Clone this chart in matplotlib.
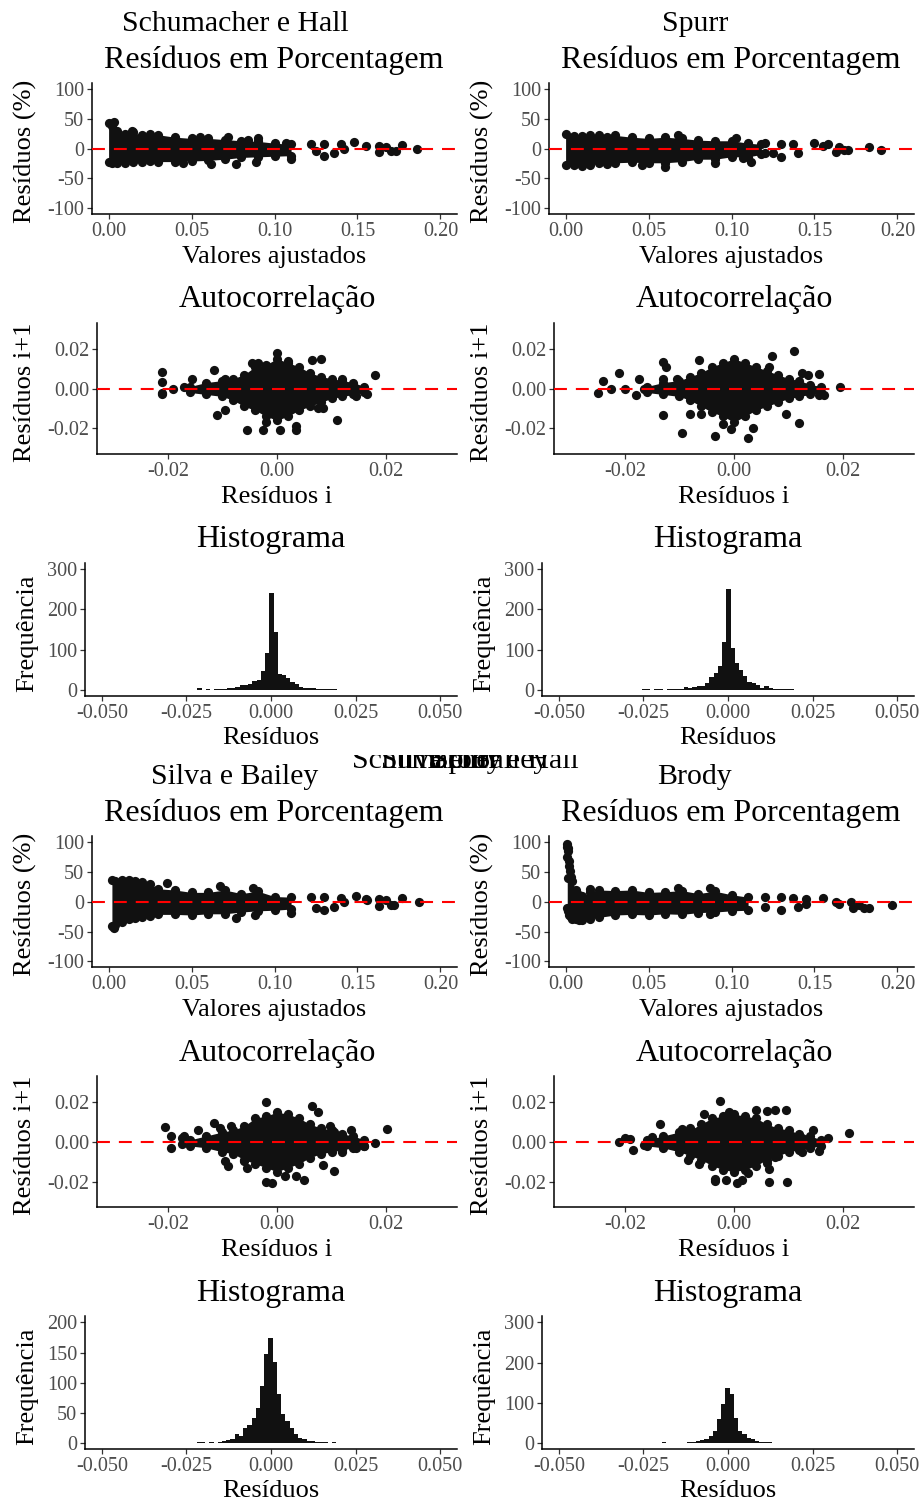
import matplotlib
matplotlib.use("Agg")
import matplotlib.pyplot as plt
import numpy as np

plt.rcParams["font.family"] = ["Liberation Serif", "DejaVu Serif"]
plt.rcParams["axes.unicode_minus"] = False

W, H = 924, 1501
DOT = "#111111"
TICK_COL = "#4D4D4D"

MODELS = ["Schumacher e Hall", "Spurr", "Silva e Bailey", "Brody"]

# ── residuals (%) vs fitted: dense core band + loose points ──────────────────
SH_PCT_X = [0.000, 0.002, 0.005, 0.010, 0.015, 0.020, 0.025, 0.030, 0.040, 0.050, 0.060, 0.070,
            0.080, 0.090, 0.100, 0.110]
SH_PCT_HI = [42, 38, 30, 25, 27, 22, 24, 23, 19, 17, 17, 15, 13, 12, 9, 7]
SH_PCT_LO = [-22, -24, -24, -24, -22, -23, -21, -22, -22, -21, -20, -18, -15, -14, -13, -12]
SH_PCT_OUT = [(0.077, -26), (0.089, -22), (0.090, 18), (0.107, 9), (0.110, -18), (0.122, 8),
              (0.125, -4), (0.130, 8), (0.130, -12), (0.136, -7), (0.140, 7), (0.142, 0),
              (0.148, 11), (0.155, 4), (0.163, 5), (0.163, -6), (0.167, 3), (0.170, -4),
              (0.173, -5), (0.177, 6), (0.186, 0), (0.062, -26), (0.003, 44), (0.014, 29),
              (0.045, -24), (0.055, 20), (0.072, 19), (0.084, 15)]

SP_PCT_X = [0.000, 0.005, 0.010, 0.015, 0.020, 0.025, 0.030, 0.040, 0.050, 0.060, 0.070, 0.080,
            0.090, 0.100, 0.110, 0.118]
SP_PCT_HI = [24, 21, 21, 23, 22, 20, 22, 19, 17, 19, 17, 14, 13, 13, 9, 7]
SP_PCT_LO = [-28, -28, -29, -27, -25, -26, -24, -23, -24, -24, -22, -18, -18, -14, -14, -10]
SP_PCT_OUT = [(0.120, 10), (0.120, -8), (0.125, -8), (0.130, 8), (0.130, -14), (0.137, 8),
              (0.140, -8), (0.150, 10), (0.155, 4), (0.158, 7), (0.163, -6), (0.165, 3),
              (0.168, -2), (0.170, -2), (0.183, 2), (0.190, -2), (0.060, -31), (0.090, -24),
              (0.046, -28), (0.068, 22), (0.107, -16), (0.112, -22), (0.103, 18)]

SB_PCT_X = [0.002, 0.004, 0.008, 0.012, 0.016, 0.020, 0.025, 0.030, 0.040, 0.050, 0.060, 0.070,
            0.080, 0.090, 0.100, 0.110]
SB_PCT_HI = [36, 35, 36, 37, 35, 34, 30, 22, 20, 16, 16, 20, 14, 18, 9, 8]
SB_PCT_LO = [-41, -38, -33, -29, -27, -25, -23, -21, -21, -22, -20, -20, -17, -15, -14, -12]
SB_PCT_OUT = [(0.077, -27), (0.088, -22), (0.110, -19), (0.122, 8), (0.125, -10), (0.130, 8),
              (0.130, -14), (0.136, -8), (0.140, 6), (0.142, 0), (0.149, 10), (0.155, 5),
              (0.156, 3), (0.163, 5), (0.163, -7), (0.167, 3), (0.170, -5), (0.172, -5),
              (0.177, 6), (0.187, 0), (0.035, 32), (0.067, 26), (0.087, 23), (0.003, -44)]

BR_PCT_X = [0.001, 0.0015, 0.002, 0.003, 0.004, 0.006, 0.008, 0.010, 0.015, 0.020, 0.030, 0.040,
            0.050, 0.060, 0.070, 0.080, 0.090, 0.100, 0.110]
BR_PCT_HI = [93, 85, 60, 42, 35, 20, 12, 10, 17, 20, 19, 20, 16, 17, 19, 14, 18, 12, 8]
BR_PCT_LO = [-10, -15, -22, -26, -28, -29, -30, -30, -28, -26, -22, -21, -22, -20, -21, -18, -17, -15, -14]
BR_PCT_OUT = [(0.120, 8), (0.120, -8), (0.130, 8), (0.130, -14), (0.137, 6), (0.140, -8),
              (0.145, 5), (0.145, -3), (0.155, 7), (0.163, 0), (0.165, -3), (0.172, 0),
              (0.173, -10), (0.177, -5), (0.180, -10), (0.183, -10), (0.197, -5),
              (0.001, 97), (0.0015, 90), (0.001, 75), (0.002, 68), (0.0025, 52), (0.0015, 40),
              (0.087, -20), (0.015, 22), (0.068, 23), (0.087, 24)]

# ── autocorrelation: residual i vs residual i+1 ──────────────────────────────
SH_ACF_X = [-0.016, -0.013, -0.010, -0.008, -0.006, -0.004, -0.002, 0.000, 0.002, 0.004, 0.006,
            0.008, 0.010, 0.012, 0.014, 0.016]
SH_ACF_HI = [0.001, 0.003, 0.004, 0.005, 0.007, 0.011, 0.012, 0.015, 0.013, 0.011, 0.008,
             0.006, 0.005, 0.004, 0.003, 0.001]
SH_ACF_LO = [-0.002, -0.003, -0.004, -0.006, -0.009, -0.011, -0.014, -0.016, -0.014, -0.011,
             -0.009, -0.007, -0.005, -0.004, -0.003, -0.002]
SH_ACF_OUT = [(-0.021, 0.0085), (-0.021, 0.0035), (-0.021, -0.0025), (-0.021, -0.003), (-0.019, 0.0),
              (-0.0155, 0.005), (-0.017, 0.001), (-0.0115, 0.0095), (-0.011, -0.0132), (-0.0095, -0.011),
              (-0.0055, -0.021), (-0.0025, -0.021), (-0.002, -0.017), (0.0005, -0.021), (0.0035, -0.019),
              (0.0035, -0.021), (0.0065, 0.0145), (0.008, 0.015), (0.011, -0.016), (0.018, 0.007),
              (0.0165, -0.003), (0.0145, -0.004), (-0.0045, 0.013), (-0.0035, 0.013), (0.0, 0.018),
              (0.002, 0.014), (0.0075, -0.010), (0.0085, -0.010), (-0.0095, 0.005), (0.012, 0.005)]

SP_ACF_X = [-0.016, -0.013, -0.010, -0.008, -0.006, -0.004, -0.002, 0.000, 0.002, 0.004, 0.006,
            0.008, 0.010, 0.012, 0.014, 0.016]
SP_ACF_HI = [0.001, 0.003, 0.004, 0.006, 0.008, 0.011, 0.013, 0.015, 0.013, 0.011, 0.009,
             0.007, 0.005, 0.004, 0.002, 0.001]
SP_ACF_LO = [-0.002, -0.003, -0.004, -0.006, -0.009, -0.012, -0.014, -0.017, -0.014, -0.011,
             -0.009, -0.007, -0.005, -0.004, -0.003, -0.002]
SP_ACF_OUT = [(-0.025, -0.0025), (-0.024, 0.004), (-0.0225, -0.0005), (-0.021, 0.008), (-0.020, 0.0),
              (-0.0175, 0.005), (-0.018, -0.0035), (-0.0165, 0.0), (-0.013, 0.0135), (-0.0125, 0.011),
              (-0.013, -0.0135), (-0.013, 0.005), (-0.0105, 0.005), (-0.0095, -0.0225), (-0.008, -0.013),
              (-0.0065, 0.0145), (-0.006, -0.013), (-0.0035, -0.024), (-0.002, -0.018), (-0.0005, -0.0205),
              (0.0025, -0.025), (0.0035, -0.020), (0.007, 0.0165), (0.0065, 0.011), (0.0095, -0.013),
              (0.011, 0.019), (0.012, -0.0175), (0.0125, 0.008), (0.0135, 0.007), (0.0155, 0.0075),
              (0.0155, -0.0035), (0.0165, -0.0035), (0.0195, 0.001), (0.0105, -0.003)]

SB_ACF_X = [-0.016, -0.013, -0.010, -0.008, -0.006, -0.004, -0.002, 0.000, 0.002, 0.004, 0.006,
            0.008, 0.010, 0.012, 0.014, 0.016]
SB_ACF_HI = [0.001, 0.003, 0.005, 0.006, 0.008, 0.012, 0.013, 0.015, 0.014, 0.012, 0.009,
             0.007, 0.006, 0.004, 0.003, 0.001]
SB_ACF_LO = [-0.002, -0.003, -0.005, -0.006, -0.009, -0.011, -0.013, -0.015, -0.013, -0.011,
             -0.008, -0.006, -0.005, -0.004, -0.003, -0.002]
SB_ACF_OUT = [(-0.0205, 0.0075), (-0.0195, -0.003), (-0.0195, 0.003), (-0.0175, 0.002), (-0.017, 0.003),
              (-0.0175, -0.001), (-0.0145, 0.006), (-0.0115, 0.0095), (-0.0105, 0.007), (-0.0085, 0.008),
              (-0.0095, -0.0095), (-0.009, -0.012), (-0.006, -0.0095), (-0.0055, -0.013), (-0.002, -0.020),
              (-0.001, -0.0205), (-0.002, 0.020), (0.0015, -0.017), (0.0035, -0.017), (0.005, -0.019),
              (0.0065, 0.018), (0.0075, 0.015), (0.0085, -0.0115), (0.0105, -0.0145), (0.012, -0.005),
              (0.0135, 0.006), (0.0145, -0.003), (0.016, -0.002), (0.018, -0.0005), (0.0202, 0.0065),
              (0.0098, 0.008), (0.0105, 0.005)]

BR_ACF_X = [-0.016, -0.013, -0.010, -0.008, -0.006, -0.004, -0.002, 0.000, 0.002, 0.004, 0.006,
            0.008, 0.010, 0.012, 0.014, 0.016]
BR_ACF_HI = [0.001, 0.003, 0.005, 0.006, 0.009, 0.012, 0.013, 0.014, 0.013, 0.012, 0.009,
             0.007, 0.006, 0.004, 0.003, 0.001]
BR_ACF_LO = [-0.002, -0.003, -0.005, -0.007, -0.009, -0.012, -0.014, -0.015, -0.014, -0.012,
             -0.009, -0.007, -0.005, -0.004, -0.003, -0.002]
BR_ACF_OUT = [(-0.021, 0.0), (-0.020, 0.002), (-0.019, 0.0015), (-0.0185, -0.004), (-0.0165, -0.0015),
              (-0.015, 0.0025), (-0.0135, 0.009), (-0.011, -0.0003), (-0.0095, 0.0065), (-0.0085, -0.009),
              (-0.008, 0.007), (-0.0065, -0.011), (-0.0055, 0.014), (-0.0035, -0.0195), (-0.0035, -0.0185),
              (-0.0015, -0.019), (-0.001, 0.015), (-0.0025, 0.0205), (0.0005, -0.0205), (0.0015, -0.019),
              (0.0025, -0.0155), (0.004, 0.016), (0.006, 0.0155), (0.0075, 0.016), (0.0095, 0.016),
              (0.006, -0.0105), (0.0065, -0.0135), (0.0075, -0.0075), (0.0065, -0.020), (0.0098, -0.020),
              (0.0125, 0.002), (0.0125, -0.005), (0.0145, 0.006), (0.0155, -0.0045), (0.0172, 0.002),
              (0.021, 0.0045)]

# ── histograms of residuals: counts per bin of width HIST_BW ─────────────────
HIST_BW = 0.00125
SH_HIST_START = -0.02175
SH_HIST = [4, 0, 2, 0, 2, 2, 3, 4, 6, 8, 12, 13, 14, 22, 25, 46, 91, 240, 143, 40, 37, 30, 20,
           14, 8, 5, 5, 5, 3, 3, 2, 2, 2]
SP_HIST_START = -0.02550
SP_HIST = [2, 2, 0, 2, 2, 0, 2, 2, 2, 3, 8, 5, 7, 9, 11, 17, 31, 41, 60, 118, 251, 105, 66, 50,
           35, 19, 17, 12, 6, 9, 6, 3, 3, 2, 2, 2]
SB_HIST_START = -0.02200
SB_HIST = [3, 3, 0, 2, 0, 3, 4, 6, 8, 15, 12, 25, 30, 42, 59, 95, 147, 175, 134, 81, 48, 37,
           26, 15, 9, 7, 4, 4, 2, 2, 2, 0, 2]
BR_HIST_START = -0.01950
BR_HIST = [3, 2, 2, 2, 2, 2, 3, 4, 6, 9, 12, 18, 31, 60, 97, 138, 122, 64, 31, 22, 14, 10, 6,
           4, 3, 3, 2, 2, 2, 0, 0, 0, 2]

PCT = {"Schumacher e Hall": (SH_PCT_X, SH_PCT_HI, SH_PCT_LO, SH_PCT_OUT),
       "Spurr": (SP_PCT_X, SP_PCT_HI, SP_PCT_LO, SP_PCT_OUT),
       "Silva e Bailey": (SB_PCT_X, SB_PCT_HI, SB_PCT_LO, SB_PCT_OUT),
       "Brody": (BR_PCT_X, BR_PCT_HI, BR_PCT_LO, BR_PCT_OUT)}
ACF = {"Schumacher e Hall": (SH_ACF_X, SH_ACF_HI, SH_ACF_LO, SH_ACF_OUT),
       "Spurr": (SP_ACF_X, SP_ACF_HI, SP_ACF_LO, SP_ACF_OUT),
       "Silva e Bailey": (SB_ACF_X, SB_ACF_HI, SB_ACF_LO, SB_ACF_OUT),
       "Brody": (BR_ACF_X, BR_ACF_HI, BR_ACF_LO, BR_ACF_OUT)}
HIST = {"Schumacher e Hall": (SH_HIST_START, SH_HIST),
        "Spurr": (SP_HIST_START, SP_HIST),
        "Silva e Bailey": (SB_HIST_START, SB_HIST),
        "Brody": (BR_HIST_START, BR_HIST)}
HIST_YTICKS = {"Schumacher e Hall": [0, 100, 200, 300], "Spurr": [0, 100, 200, 300],
               "Silva e Bailey": [0, 50, 100, 150, 200], "Brody": [0, 100, 200, 300]}


# ── helpers ───────────────────────────────────────────────────────────────────

def px_axes(fig, x0, y0, x1, y1):
    return fig.add_axes([x0 / W, 1 - y1 / H, (x1 - x0) / W, (y1 - y0) / H])


def px_text(fig, x, y, s, size, rotation=0, **kw):
    fig.text(x / W, 1 - y / H, s, fontsize=size, rotation=rotation,
             ha="center", va="center", **kw)


def style(ax):
    for side in ("top", "right"):
        ax.spines[side].set_visible(False)
    for side in ("left", "bottom"):
        ax.spines[side].set_linewidth(1.1)
        ax.spines[side].set_color("black")
    ax.tick_params(length=3.5, width=0.9, color="#333333", labelcolor=TICK_COL,
                   labelsize=14.6, pad=2)
    ax.set_facecolor("none")


def zero_line(ax):
    ax.axhline(0, color="red", lw=1.5, dashes=(6.2, 4.3), zorder=5)


def cloud(ax, x, hi, lo, out):
    ax.fill_between(x, lo, hi, color=DOT, lw=0, zorder=2)
    ax.scatter(x + x, hi + lo, s=44, color=DOT, lw=0, zorder=3)
    ox, oy = zip(*out)
    ax.scatter(ox, oy, s=44, color=DOT, lw=0, zorder=3)


def pct_panel(fig, box, name):
    ax = px_axes(fig, *box)
    x, hi, lo, out = PCT[name]
    cloud(ax, x, hi, lo, out)
    zero_line(ax)
    ax.set_xlim(-0.01, 0.21)
    ax.set_ylim(-110, 110)
    ax.set_xticks([0, 0.05, 0.10, 0.15, 0.20])
    ax.set_xticklabels(["0.00", "0.05", "0.10", "0.15", "0.20"])
    ax.set_yticks([-100, -50, 0, 50, 100])
    style(ax)
    return ax


def acf_panel(fig, box, name):
    ax = px_axes(fig, *box)
    x, hi, lo, out = ACF[name]
    cloud(ax, x, hi, lo, out)
    zero_line(ax)
    ax.set_xlim(-0.033, 0.033)
    ax.set_ylim(-0.033, 0.033)
    ax.set_xticks([-0.02, 0, 0.02])
    ax.set_xticklabels(["-0.02", "0.00", "0.02"])
    ax.set_yticks([-0.02, 0, 0.02])
    ax.set_yticklabels(["-0.02", "0.00", "0.02"])
    style(ax)
    return ax


def hist_panel(fig, box, name):
    ax = px_axes(fig, *box)
    start, counts = HIST[name]
    edges = start + HIST_BW * np.arange(len(counts))
    ax.bar(edges, counts, width=HIST_BW, align="edge", color=DOT, lw=0)
    ax.set_xlim(-0.055, 0.055)
    ticks = HIST_YTICKS[name]
    ax.set_ylim(-0.05 * ticks[-1], 1.05 * ticks[-1])
    ax.set_yticks(ticks)
    ax.set_xticks([-0.05, -0.025, 0, 0.025, 0.05])
    ax.set_xticklabels(["-0.050", "-0.025", "0.000", "0.025", "0.050"])
    style(ax)
    return ax


# ── figure ────────────────────────────────────────────────────────────────────

fig = plt.figure(figsize=(W / 100, H / 100), dpi=100)
fig.patch.set_facecolor("white")

TITLE = 23
NAME = 21.5
LAB = 19

for g, (left_name, right_name) in enumerate([MODELS[:2], MODELS[2:]]):
    dy = g * 753.4 + 3
    for c, name in enumerate([left_name, right_name]):
        dx = c * 457
        px_text(fig, 235 + dx + (3 if c else 0), 21 + dy, name, NAME)

        pct_panel(fig, (92 + dx, 80 + dy, 457 + dx, 211 + dy), name)
        px_text(fig, 274 + dx, 57 + dy, "Resíduos em Porcentagem", TITLE)
        px_text(fig, 274 + dx, 254 + dy, "Valores ajustados", LAB)
        px_text(fig, 25 + dx, 148 + dy, "Resíduos (%)", LAB, rotation=90)

        acf_panel(fig, (97 + dx, 320 + dy, 457 + dx, 451 + dy), name)
        px_text(fig, 277 + dx, 297 + dy, "Autocorrelação", TITLE)
        px_text(fig, 277 + dx, 494 + dy, "Resíduos i", LAB)
        px_text(fig, 25 + dx, 389 + dy, "Resíduos i+1", LAB, rotation=90)

        hist_panel(fig, (85 + dx, 560 + dy, 457 + dx, 693 + dy), name)
        px_text(fig, 271 + dx, 537 + dy, "Histograma", TITLE)
        px_text(fig, 271 + dx, 735 + dy, "Resíduos", LAB)
        px_text(fig, 27 + dx, 630 + dy, "Frequência", LAB, rotation=90)

# stacked model names at the seam between the two blocks, top part cut off
seam = px_axes(fig, 300, 755, 640, 790)
seam.set_axis_off()
seam.set_xlim(0, 340)
seam.set_ylim(35, 0)
for name in MODELS:
    seam.text(165, 13, name, fontsize=NAME, ha="center", va="baseline", clip_on=True)

fig.savefig("out.png", dpi=100)
